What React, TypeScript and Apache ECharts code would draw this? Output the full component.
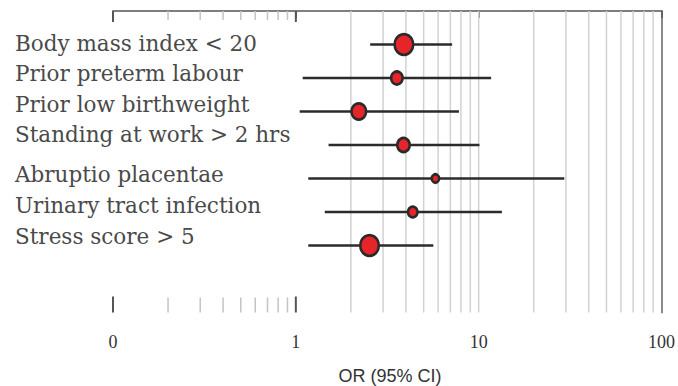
import React, { useEffect, useRef } from "react";
import * as echarts from "echarts";

const categories = [
  "Body mass index < 20",
  "Prior preterm labour",
  "Prior low birthweight",
  "Standing at work > 2 hrs",
  "Abruptio placentae",
  "Urinary tract infection",
  "Stress score > 5",
];
const oddsRatios = [3.9, 3.57, 2.21, 3.88, 5.8, 4.36, 2.53];
const ciLower = [2.55, 1.09, 1.05, 1.51, 1.17, 1.44, 1.17];
const ciUpper = [7.16, 11.7, 7.8, 10.1, 29.4, 13.4, 5.65];
const weights = [18.5, 11.5, 14.5, 12.5, 7.5, 9.5, 18.5];
const gridValues = [2, 3, 4, 5, 6, 7, 8, 9, 10, 20, 30, 40, 50, 60, 70, 80, 90];
const minorTickValues = [0.2, 0.3, 0.4, 0.5, 0.6, 0.7, 0.8, 0.9];
const majorTickValues = [0.1, 1];
const axisTitle = "OR (95% CI)";

const Y_MAX = 9;

export default function App() {
  const ref = useRef<HTMLDivElement>(null);
  useEffect(() => {
    if (!ref.current) return;
    const chart = echarts.init(ref.current, undefined, { renderer: "svg" });
    const rowY = categories.map((_, i) => i + 1);
    const labelY = categories.map((_, i) => 44 + i * 30.6 + (i >= 4 ? 9.5 : 0));

    const option: any = {
      animation: false,
      backgroundColor: "#ffffff",
      grid: { left: 113, right: 10.5, top: 11, bottom: 73.5, containLabel: false },
      xAxis: [
        {
          type: "log",
          logBase: 10,
          min: 0.1,
          max: 100,
          position: "bottom",
          axisLine: { show: true, lineStyle: { color: "#555", width: 1.5 } },
          axisTick: { show: true, length: 7, lineStyle: { color: "#555", width: 1.5 } },
          splitLine: { show: false },
          axisLabel: {
            margin: 20,
            fontFamily: "Liberation Serif",
            fontSize: 18,
            color: "#333",
            formatter: (v: number) => (v < 0.5 ? "0" : String(Math.round(v))),
          },
        },
        {
          type: "log",
          logBase: 10,
          min: 0.1,
          max: 100,
          position: "top",
          axisLine: { show: true, lineStyle: { color: "#808080", width: 1.5 } },
          axisTick: { show: false },
          axisLabel: { show: false },
          splitLine: { show: false },
        },
      ],
      yAxis: {
        type: "value",
        min: 0,
        max: Y_MAX,
        inverse: true,
        position: "right",
        axisLine: { show: true, lineStyle: { color: "#8a8a8a", width: 2 } },
        axisTick: { show: false },
        axisLabel: { show: false },
        splitLine: { show: false },
      },
      series: [
        {
          type: "custom",
          name: "grid",
          xAxisIndex: 0,
          data: gridValues.map((v) => [v, 0]),
          encode: { x: 0, y: 1 },
          z: 1,
          silent: true,
          renderItem: (params: any, api: any) => {
            const v = api.value(0);
            const a = api.coord([v, 0]);
            const b = api.coord([v, Y_MAX]);
            return {
              type: "line",
              shape: { x1: a[0], y1: a[1], x2: b[0], y2: b[1] },
              style: { stroke: "#d2d2d2", lineWidth: 1.5 },
            };
          },
        },
        {
          type: "custom",
          name: "minorTicks",
          data: minorTickValues.map((v) => [v, 0]),
          encode: { x: 0, y: 1 },
          z: 2,
          silent: true,
          renderItem: (params: any, api: any) => {
            const v = api.value(0);
            const a = api.coord([v, 0]);
            const b = api.coord([v, Y_MAX]);
            return {
              type: "group",
              children: [
                { type: "line", shape: { x1: a[0], y1: a[1], x2: a[0], y2: a[1] + 9 }, style: { stroke: "#c4c4c4", lineWidth: 1.5 } },
                { type: "line", shape: { x1: b[0], y1: b[1] - 15, x2: b[0], y2: b[1] }, style: { stroke: "#c4c4c4", lineWidth: 1.5 } },
              ],
            };
          },
        },
        {
          type: "custom",
          name: "majorTicks",
          data: majorTickValues.map((v) => [v, 0]),
          encode: { x: 0, y: 1 },
          z: 3,
          silent: true,
          renderItem: (params: any, api: any) => {
            const v = api.value(0);
            const a = api.coord([v, 0]);
            const b = api.coord([v, Y_MAX]);
            return {
              type: "group",
              children: [
                { type: "line", shape: { x1: a[0], y1: a[1], x2: a[0], y2: a[1] + 11 }, style: { stroke: "#555", lineWidth: 2 } },
                { type: "line", shape: { x1: b[0], y1: b[1] - 16, x2: b[0], y2: b[1] }, style: { stroke: "#555", lineWidth: 2 } },
              ],
            };
          },
        },
        {
          type: "custom",
          name: "CI",
          data: rowY.map((y, i) => [ciLower[i], ciUpper[i], y]),
          encode: { x: [0, 1], y: 2 },
          z: 4,
          silent: true,
          renderItem: (params: any, api: any) => {
            const a = api.coord([api.value(0), api.value(2)]);
            const b = api.coord([api.value(1), api.value(2)]);
            return {
              type: "line",
              shape: { x1: a[0], y1: a[1], x2: b[0], y2: b[1] },
              style: { stroke: "#2b2b2b", lineWidth: 2.6 },
            };
          },
        },
        {
          type: "scatter",
          name: "OR",
          z: 5,
          symbol: "circle",
          data: rowY.map((y, i) => ({
            value: [oddsRatios[i], y],
            symbolSize: [weights[i], weights[i] * 1.12],
          })),
          itemStyle: { color: "#e8242b", borderColor: "#2a2a2a", borderWidth: 2.6, opacity: 1 },
        },
      ],
      graphic: [
        ...categories.map((c, i) => ({
          type: "text",
          left: 15,
          top: labelY[i] - 12,
          style: {
            text: c,
            fontFamily: "DejaVu Serif",
            fontSize: 21.5,
            fill: "#4a4a4a",
          },
        })),
        {
          type: "text",
          x: 390,
          y: 376,
          style: {
            text: axisTitle,
            fontFamily: "Liberation Sans",
            fontSize: 18,
            fill: "#333",
            align: "center",
            verticalAlign: "middle",
          },
        },
      ],
    };
    chart.setOption(option);
    return () => chart.dispose();
  }, []);
  return (
    <div
      ref={ref}
      style={{ position: "absolute", left: 0, top: 0, width: 678, height: 386 }}
    />
  );
}
